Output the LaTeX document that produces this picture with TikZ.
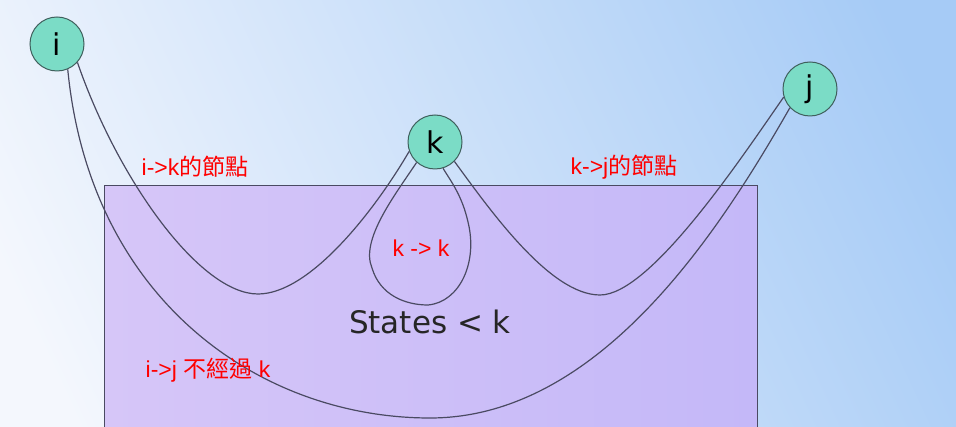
\documentclass[tikz,border=0pt]{standalone}
\usepackage{fontspec}
\setmainfont{Liberation Sans}
\newfontfamily\cjk{Noto Sans CJK TC}
\newfontfamily\dv{DejaVu Sans}
\definecolor{bgL}{HTML}{F4F7FD}
\definecolor{bgR}{HTML}{A6CBF6}
\definecolor{boxL}{HTML}{D6C6F8}
\definecolor{boxR}{HTML}{C4B8F8}
\definecolor{teal}{HTML}{7BDCC6}
\definecolor{ring}{HTML}{3F5F5C}
\definecolor{edge}{HTML}{4A4A62}
\tikzset{
  st/.style={circle, draw=ring, line width=1pt, fill=teal, minimum size=54pt, inner sep=0pt, font=\dv\fontsize{30}{32}\selectfont},
  conn/.style={draw=edge, line width=1.2pt},
  lbl/.style={text=red, font=\fontsize{23}{25}\selectfont, inner sep=0pt}
}
\begin{document}
\begin{tikzpicture}[x=1pt,y=-1pt]
\useasboundingbox (0,0) rectangle (956,427);
\clip (0,0) rectangle (956,427);
\shade[shading=axis, left color=bgL, right color=bgR, shading angle=115] (-60,-60) rectangle (1016,487);
\shade[left color=boxL, right color=boxR, draw=edge, line width=1pt] (104,186) rectangle (757,440);
\node[st] (i) at (57,44) {i};
\node[st] (k) at (435,142) {k};
\node[st] (j) at (810,89) {j};
\coordinate (b1) at (258,294);
\coordinate (b2) at (430,418);
\coordinate (b3) at (600,295);
\coordinate (b4) at (428,305);
% i -> k
\draw[conn] (i.-42) .. controls (118,180) and (200,294) .. (b1) .. controls (310,294) and (375,210) .. (k.-160);
% k loop
\draw[conn] (k.-132) .. controls (395,195) and (360,240) .. (372,268) .. controls (380,295) and (405,305) .. (b4) .. controls (460,302) and (478,262) .. (468,222) .. controls (462,195) and (450,180) .. (k.-73);
% k -> j
\draw[conn] (k.-45) .. controls (490,210) and (550,295) .. (b3) .. controls (650,295) and (740,160) .. (j.-163);
% i -> j
\draw[conn] (i.-67) .. controls (90,300) and (260,418) .. (b2) .. controls (600,418) and (720,230) .. (j.-137);
\node[lbl] (l1) at (195,167) {i->k{\cjk 的節點}};
\node[lbl] (l2) at (624,167) {k->j{\cjk 的節點}};
\node[lbl] (l3) at (421,248) {k -> k};
\node[lbl] (l4) at (208,370) {i->j {\cjk 不經過} k};
\node[font=\dv\fontsize{31}{33}\selectfont, inner sep=0pt, text=black!85] (s) at (430,322) {States < k};
\end{tikzpicture}
\end{document}
